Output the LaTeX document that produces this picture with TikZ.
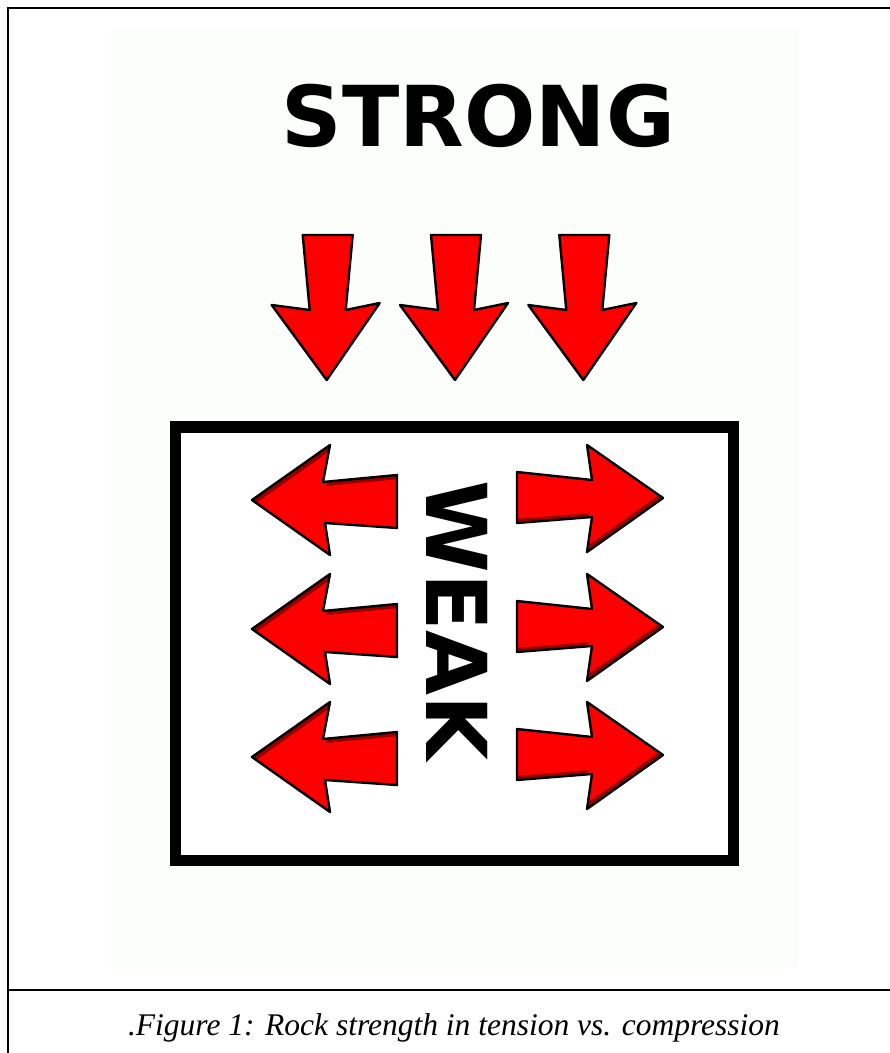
\documentclass[tikz,border=0pt]{standalone}
\usepackage{fontspec}
\newfontfamily\djsans{DejaVu Sans}
\newfontfamily\libserif{Liberation Serif}
\definecolor{arrred}{RGB}{255,0,0}
\definecolor{arrdark}{RGB}{150,0,0}
\definecolor{paper}{RGB}{252,254,252}
\tikzset{
  x=1pt, y=-1pt,
  frameline/.style={line width=2.8pt, black},
  outline/.style={draw=black, line width=2.4pt, line join=round},
  downarrowshape/.pic={
    \fill[arrred] (0,0) -- (-55,-75) -- (-17,-70) -- (-24,-145) -- (26,-145) -- (19,-70) -- (53,-77) -- cycle;
    \draw[outline] (0,0) -- (-55,-75) -- (-17,-70) -- (-24,-145) -- (26,-145) -- (19,-70) -- (53,-77) -- cycle;
  },
  leftarrowshape/.pic={
    \begin{scope}
      \clip (0,0) -- (78,-55) -- (71,-18) -- (145,-25) -- (145,28) -- (73,23) -- (78,55) -- cycle;
      \fill[arrdark] (0,0) -- (78,-55) -- (71,-18) -- (145,-25) -- (145,28) -- (73,23) -- (78,55) -- cycle;
      \fill[arrred, shift={(3,4)}] (0,0) -- (78,-55) -- (71,-18) -- (145,-25) -- (145,28) -- (73,23) -- (78,55) -- cycle;
    \end{scope}
    \draw[outline] (0,0) -- (78,-55) -- (71,-18) -- (145,-25) -- (145,28) -- (73,23) -- (78,55) -- cycle;
  },
  rightarrowshape/.pic={
    \begin{scope}
      \clip (0,0) -- (-76,-53) -- (-71,-18) -- (-146,-26) -- (-146,25) -- (-71,19) -- (-76,54) -- cycle;
      \fill[arrdark] (0,0) -- (-76,-53) -- (-71,-18) -- (-146,-26) -- (-146,25) -- (-71,19) -- (-76,54) -- cycle;
      \fill[arrred, shift={(-3,-4)}] (0,0) -- (-76,-53) -- (-71,-18) -- (-146,-26) -- (-146,25) -- (-71,19) -- (-76,54) -- cycle;
    \end{scope}
    \draw[outline] (0,0) -- (-76,-53) -- (-71,-18) -- (-146,-26) -- (-146,25) -- (-71,19) -- (-76,54) -- cycle;
  },
  bigword/.style={font=\djsans\bfseries\fontsize{84}{84}\selectfont, inner sep=0pt, text=black},
  captiontext/.style={font=\libserif\itshape\fontsize{31.5}{31.5}\selectfont, inner sep=0pt}
}
\begin{document}
\begin{tikzpicture}
\useasboundingbox (0,0) rectangle (890,1053);
\fill[white] (0,0) rectangle (890,1053);
\fill[paper] (110,29) rectangle (798,968);
% frame
\draw[frameline] (890,8) -- (8,8) -- (8,1053);
\draw[frameline] (8,990) -- (890,990);
% title
\node[bigword, anchor=base] (strong) at (478.5,146.7) {STRONG};
% compression arrows
\pic at (326.7,380) {downarrowshape};
\pic at (455,380) {downarrowshape};
\pic at (583.3,380) {downarrowshape};
% box
\node[draw=black, fill=white, line width=11.5pt, minimum width=558pt, minimum height=433.5pt, inner sep=0pt] (box) at (454.5,643.75) {};
% tension arrows
\pic at (252,500) {leftarrowshape};
\pic at (252,629) {leftarrowshape};
\pic at (252,757) {leftarrowshape};
\pic at (663,498) {rightarrowshape};
\pic at (663,627) {rightarrowshape};
\pic at (663,755) {rightarrowshape};
% weak
\node[bigword, rotate=-90] (weak) at (457.5,620.5) {WEAK};
% caption
\node[captiontext, anchor=base] (caption) at (454,1035.7) {.Figure 1: Rock strength in tension vs. compression};
\end{tikzpicture}
\end{document}
